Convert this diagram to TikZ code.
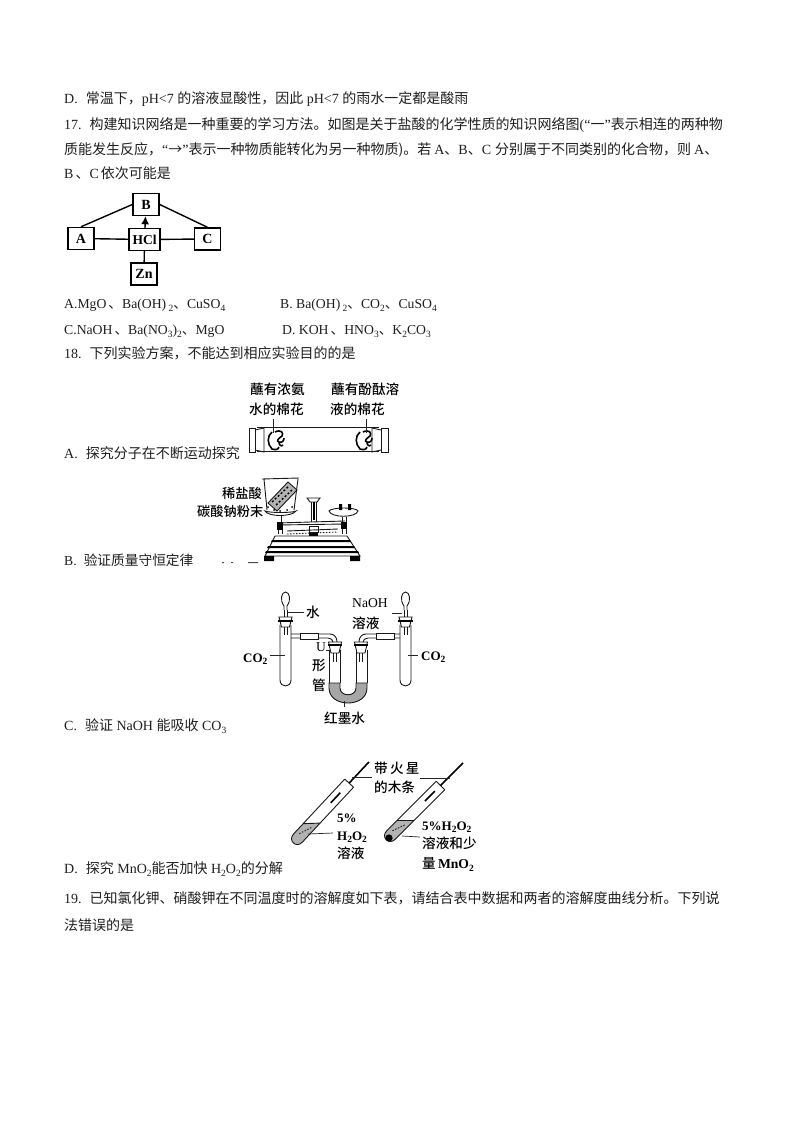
\documentclass[tikz,border=0pt]{standalone}
\usepackage{fontspec}
\usetikzlibrary{arrows.meta}
\setmainfont{Liberation Serif}
\newfontfamily\cjk{Noto Sans CJK SC}
\newfontfamily\cjkm{Noto Sans CJK SC Medium}
\newcommand\C[1]{{\cjk #1}}
\newcommand\subs[1]{\raisebox{-.22em}{\fontsize{9.5}{9.5}\selectfont #1}}
\newcommand\lbl[1]{{\cjkm #1}}
\tikzset{
 x=1pt,y=-1pt,
 body/.style={anchor=base west,inner sep=0pt,font=\fontsize{13.7}{14}\selectfont,text=black!88},
 wide/.style={anchor=base west,inner sep=0pt,font=\fontsize{14}{14}\selectfont,text=black!88},
 tag/.style={anchor=base west,inner sep=0pt,font=\fontsize{13.6}{14}\selectfont,text=black},
 boldtag/.style={anchor=base west,inner sep=0pt,font=\fontsize{13}{14}\selectfont\bfseries,text=black},
 netbox/.style={draw=black,line width=1.4pt,fill=white,minimum width=26pt,minimum height=22pt,inner sep=0pt,font=\fontsize{14}{14}\selectfont\bfseries},
 link/.style={draw=black,line width=1.4pt},
 ink/.style={draw=black!90,line width=.9pt},
 thin ink/.style={draw=black!85,line width=.7pt},
}
\begin{document}
\begin{tikzpicture}
\useasboundingbox (0,0) rectangle (794,1123);
\fill[white] (0,0) rectangle (794,1123);
% body text
\node[wide] (t1) at (64,104) {D.\hspace{8pt}\C{常温下，}pH<7 \C{的溶液显酸性，因此} pH<7 \C{的雨水一定都是酸雨}};
\node[wide] (t2) at (64,130) {17.\hspace{8pt}\C{构建知识网络是一种重要的学习方法。如图是关于盐酸的化学性质的知识网络图}(“\C{一}”\C{表示相连的两种物}};
\node[wide] (t3) at (64,155) {\C{质能发生反应，}“\C{→}”\C{表示一种物质能转化为另一种物质)。若}\hspace{3pt}A\C{、}B\C{、}C\hspace{4pt}\C{分别属于不同类别的化合物，则}\hspace{3pt}A\C{、}};
\node[wide] (t4) at (64,179) {B\hspace{2pt}\C{、}C\hspace{2pt}\C{依次可能是}};
\node[body] (o1) at (64,308) {A.MgO\hspace{2pt}\C{、}Ba(OH)\,\subs{2}\C{、}CuSO\subs{4}};
\node[body] (o2) at (280,308) {B. Ba(OH)\,\subs{2}\C{、}CO\subs{2}\C{、}CuSO\subs{4}};
\node[body] (o3) at (64,334) {C.NaOH\hspace{2pt}\C{、}Ba(NO\subs{3})\subs{2}\C{、}MgO};
\node[body] (o4) at (282,334) {D. KOH\hspace{2pt}\C{、}HNO\subs{3}\C{、}K\subs{2}CO\subs{3}};
\node[wide] (t5) at (64,358) {18.\hspace{8pt}\C{下列实验方案，不能达到相应实验目的的是}};
\node[wide] (ta) at (64,458) {A.\hspace{8pt}\C{探究分子在不断运动探究}};
\node[body] (tb) at (64,565) {B.\hspace{7pt}\C{验证质量守恒定律}};
\node[wide] (tc) at (64,730) {C.\hspace{8pt}\C{验证} NaOH \C{能吸收} CO\subs{3}};
\node[wide] (td) at (64,873) {D.\hspace{8pt}\C{探究} MnO\subs{2}\C{能否加快} H\subs{2}O\subs{2}\C{的分解}};
\node[wide] (t6) at (64,903) {19.\hspace{8pt}\C{已知氯化钾、硝酸钾在不同温度时的溶解度如下表，请结合表中数据和两者的溶解度曲线分析。下列说}};
\node[wide] (t7) at (64,930) {\C{法错误的是}};
% network
\node[netbox] (B) at (146,204.5) {B};
\node[netbox] (A) at (81,238.5) {A};
\node[netbox,minimum width=31pt,font=\fontsize{13.5}{14}\selectfont\bfseries] (H) at (144.5,239.5) {HCl};
\node[netbox] (Cc) at (207.5,239) {C};
\node[netbox] (Z) at (144,274) {Zn};
\draw[link] (A.north) -- (B.west);
\draw[link] (B.east) -- (Cc.north);
\draw[link] (A) -- (H);
\draw[link] (H) -- (Cc);
\draw[link] (H) -- (Z);
\draw[link,-{Latex[length=8pt,width=8pt]}] (H) -- (B);
% --- A apparatus
\node[tag] (a1) at (250,394) {\lbl{蘸有浓氨}};
\node[tag] (a2) at (249,414) {\lbl{水的棉花}};
\node[tag] (a3) at (331,394) {\lbl{蘸有酚酞溶}};
\node[tag] (a4) at (330,414) {\lbl{液的棉花}};
\draw[ink] (257,427.5) -- (379,427.5) (257,451.5) -- (379,451.5);
\draw[ink,fill=white] (249,428) rectangle (255,452);
\draw[ink,fill=white] (381,428) rectangle (388,452);
\draw[ink] (255,430) -- (264,428) -- (264,452) -- (255,450);
\draw[ink] (381,430) -- (372,428) -- (372,452) -- (381,450);
\coordinate (ca) at (273,433); \coordinate (cb) at (366,433);
\foreach \qx in {270,358}{
\draw[line width=1.6pt,black,xshift=\qx pt] (2,432) .. controls (-3,436) and (-3,444) .. (2,449) .. controls (5,450) and (8,450) .. (9,447) (5,432) .. controls (11,429) and (14,433) .. (12,436) .. controls (8,439) and (6,441) .. (9,442) .. controls (12,443) and (14,441) .. (14,438) (9,442) .. controls (9,445) and (11,447) .. (13,445);
}
\draw[thin ink] (273,419) -- (ca) (366,419) -- (cb);
% --- B apparatus
\node[tag,font=\fontsize{13.2}{14}\selectfont] (b1) at (222,498) {\lbl{稀盐酸}};
\node[tag,font=\fontsize{13.2}{14}\selectfont] (b2) at (197,516) {\lbl{碳酸钠粉末}};
\draw[ink] (262,479) -- (299,478) (264,479) -- (267,510) (298,479) -- (294,510);
\draw[ink,fill=black!30] (268,503) -- (288,482) -- (297,490) -- (277,511) -- cycle;
\draw[black,dash pattern=on 2pt off 2pt,line width=1.4pt] (272,502) -- (289,486) (276,505) -- (292,490);
\fill[black] (268,507) circle (1) (274,510) circle (1) (280,511) circle (1) (287,510) circle (1) (292,507) circle (1);
\draw[ink,fill=white] (265,511) .. controls (268,517) and (292,517) .. (296,511) .. controls (292,513) and (270,513) .. (265,511) -- cycle;
\draw[ink] (281,516) -- (281,524);
% right pan
\draw[ink,fill=white] (329,511) .. controls (331,518) and (356,518) .. (358,511) .. controls (356,507) and (332,507) .. (329,511) -- cycle;
\fill[black] (339,504) rectangle (342,510) (348,504) rectangle (351,510);
\draw[ink] (342,517) -- (342,534) (346,517) -- (346,534);
\fill[black] (341,522) rectangle (347,529);
\draw[ink] (278,524) -- (278,534) (282,524) -- (282,534);
\fill[black] (277,522) rectangle (283,530);
% centre pointer
\draw[ink] (307,498) -- (320,498) -- (317,502) -- (310,502) -- cycle;
\draw[ink] (311,502) -- (311,522) (316,502) -- (316,522);
\fill[black] (312.5,502) rectangle (314.5,520);
\draw[ink,fill=white] (309,526) rectangle (318,532);
\fill[black] (309,533) rectangle (318,542);
% beam
\draw[ink] (277,523) -- (345,521);
\draw[ink] (277,525) -- (345,524);
\draw[ink] (287,531) -- (338,529);
\draw[ink,dash pattern=on 1.5pt off 1.5pt] (287,534) -- (338,532);
% base
\draw[ink,fill=white] (275,536) -- (347,536) -- (360,556) -- (265,556) -- cycle;
\fill[black] (272,540) -- (350,540) -- (351,542) -- (271,542) -- cycle;
\fill[black] (268,546) -- (354,546) -- (355,548) -- (267,548) -- cycle;
\fill[black] (266,551) -- (358,551) -- (359,553) -- (265,553) -- cycle;
\fill[black] (264,556) rectangle (274,561) (350,556) rectangle (360,561);
\fill[black!70] (222,562) rectangle (224,563) (231,562) rectangle (233,563) (248,562) rectangle (258,563);
% --- C apparatus
\node[boldtag] (c1) at (243,662) {CO\subs{2}};
\node[tag] (c2) at (306,617) {\lbl{水}};
\node[tag] (c3) at (352,607) {NaOH};
\node[tag] (c4) at (352,628) {\lbl{溶液}};
\node[tag] (c5) at (316,651) {U};
\node[tag] (c6) at (312,670) {\lbl{形}};
\node[tag] (c7) at (312,690) {\lbl{管}};
\node[tag] (c8) at (324,723) {\lbl{红墨水}};
\node[boldtag] (c9) at (421,660) {CO\subs{2}};
% tubes
\foreach \cx in {285.5,405.5}{
 \draw[ink] (\cx-5.5,625) -- (\cx-5.5,680) .. controls (\cx-5.5,688) and (\cx+5.5,688) .. (\cx+5.5,680) -- (\cx+5.5,625);
 \draw[ink,fill=white] (\cx-6.5,617) -- (\cx+6.5,617) -- (\cx+4,627) -- (\cx-4,627) -- cycle;
 \draw[line width=1.4pt,black] (\cx-7.5,621) -- (\cx+7.5,621);
 \draw[ink] (\cx-1.5,610) -- (\cx-1.5,617) (\cx+1.5,610) -- (\cx+1.5,617);
 \draw[ink] (\cx-1.5,627) -- (\cx-1.5,635) (\cx+1.5,627) -- (\cx+1.5,635);
 \draw[ink,fill=white] (\cx-1.5,610) -- (\cx-1.5,606) .. controls (\cx-6,600) and (\cx-4,592) .. (\cx,592) .. controls (\cx+4,592) and (\cx+6,600) .. (\cx+1.5,606) -- (\cx+1.5,610);
}
% U tube
\path[fill=black!35,draw=black!90,line width=.9pt] (329,683) -- (329,688) .. controls (329,708) and (367,708) .. (367,688) -- (367,683) -- (356,683) -- (356,688) .. controls (356,697) and (340,697) .. (340,688) -- (340,683) -- cycle;
\draw[ink] (329,683) -- (329,650) (340,683) -- (340,650) (356,683) -- (356,650) (367,683) -- (367,650);
\foreach \ux in {335,361}{
 \draw[ink,fill=white] (\ux-6.5,642) -- (\ux+6.5,642) -- (\ux+4,653) -- (\ux-4,653) -- cycle;
 \draw[line width=1.4pt,black] (\ux-7,645) -- (\ux+7,645);
 \draw[ink] (\ux-1.5,653) -- (\ux-1.5,662) (\ux+1.5,653) -- (\ux+1.5,662);
}
% connecting glass
\draw[ink] (291,634) -- (330,634) .. controls (334,634) and (337,637) .. (337,642);
\draw[ink] (291,638) -- (328,638) .. controls (331,638) and (333,640) .. (333,642);
\draw[ink,fill=white] (300,633) rectangle (318,639);
\draw[ink] (400,634) -- (366,634) .. controls (362,634) and (359,637) .. (359,642);
\draw[ink] (400,638) -- (368,638) .. controls (365,638) and (363,640) .. (363,642);
\draw[ink,fill=white] (376,633) rectangle (394,639);
% leaders
\coordinate (l2) at (288,612); \coordinate (l3) at (392,613); \coordinate (l4) at (408,655); \coordinate (l5) at (344,701); \coordinate (l6) at (331,650); \coordinate (l8) at (285,655); \coordinate (l9) at (344,707); \coordinate (l10) at (402,613);
\draw[thin ink,shorten <=2pt] (c1.east |- l8) -- (l8);
\draw[thin ink,shorten <=2pt] (c2.west |- l2) -- (l2);
\draw[thin ink] (l3) -- (l10);
\draw[thin ink,shorten <=3pt] (c9.west |- l4) -- (l4);
\draw[thin ink] (l5) -- (l9);
\draw[thin ink] (c5.east |- l6) -- (l6);
% --- D apparatus
\node[tag] (d1) at (374,773) {\lbl{带\,火\,星}};
\node[tag] (d2) at (374,792) {\lbl{的木条}};
\node[boldtag] (d3) at (337,822) {5\%};
\node[boldtag] (d4) at (337,840) {H\subs{2}O\subs{2}};
\node[tag] (d5) at (337,858) {\lbl{溶液}};
\node[boldtag] (d6) at (422,830) {5\%H\subs{2}O\subs{2}};
\node[tag] (d7) at (422,848) {\lbl{溶液和少}};
\node[tag] (d8) at (422,868) {\lbl{量}\,\textbf{MnO\subs{2}}};
\foreach \bx/\by/\rot/\len/\stk in {298/838/47/75/29,391/835/45/70/32}{
 \begin{scope}[shift={(\bx,\by)},rotate=\rot]
  \fill[black!30] (0,-6) .. controls (-9,-6) and (-9,6) .. (0,6) -- (26,6) -- (14,-6) -- cycle;
  \draw[ink,dash pattern=on 1.5pt off 1.5pt] (4,-2) -- (18,3);
  \draw[ink] (\len,-6) -- (0,-6) .. controls (-9,-6) and (-9,6) .. (0,6) -- (\len,6);
  \draw[ink] (\len,-6) -- (\len,6);
  \draw[ink] (14,-6) -- (26,6);
  \draw[line width=1.6pt,black] (48,0) -- (62,0);
  \draw[line width=1.6pt,black] (\len,0) -- (\len+\stk,0);
 \end{scope}
}
\fill[black] (389,838) circle (3.6);
\draw[thin ink] (352,777) -- (372,777);
\draw[thin ink] (420,778) -- (450,778);
\draw[thin ink] (308,834) -- (333,833);
\draw[thin ink] (402,836) -- (420,837);
\end{tikzpicture}
\end{document}
